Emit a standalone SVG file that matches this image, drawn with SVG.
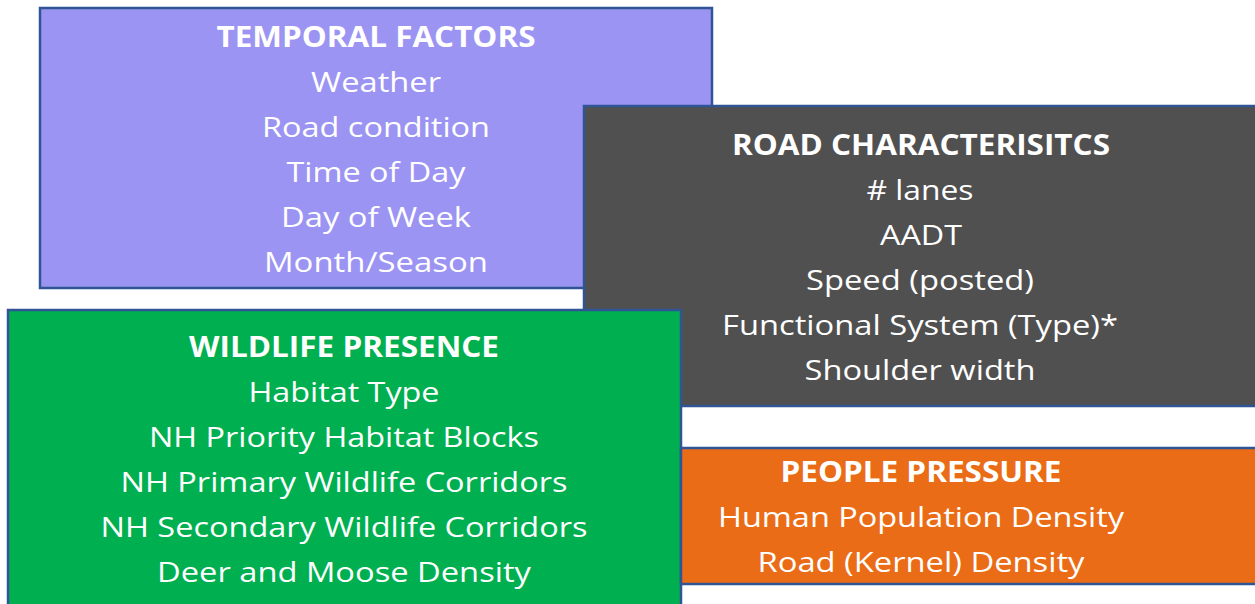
<svg xmlns="http://www.w3.org/2000/svg" width="1255" height="604" viewBox="0 0 1255 604">
<style>
.box{stroke:#2F5597;stroke-width:2.5}
text{font-family:"Open Sans","Liberation Sans",sans-serif;fill:#ffffff;text-anchor:middle;font-size:28px}
.h{font-weight:bold}
</style>
<rect width="1255" height="604" fill="#ffffff"/>
<g id="temporal">
<rect class="box" x="40" y="8" width="672" height="280" fill="#9C94F2"/>
<text class="h" x="376" y="47" textLength="319" lengthAdjust="spacingAndGlyphs">TEMPORAL FACTORS</text>
<text x="376" y="92" textLength="130" lengthAdjust="spacingAndGlyphs">Weather</text>
<text x="376" y="137" textLength="228" lengthAdjust="spacingAndGlyphs">Road condition</text>
<text x="376" y="182" textLength="179" lengthAdjust="spacingAndGlyphs">Time of Day</text>
<text x="376" y="227" textLength="190" lengthAdjust="spacingAndGlyphs">Day of Week</text>
<text x="376" y="272" textLength="224" lengthAdjust="spacingAndGlyphs">Month/Season</text>
</g>
<g id="road">
<rect class="box" x="584" y="106" width="690" height="300" fill="#505050"/>
<text class="h" x="921" y="155" textLength="378" lengthAdjust="spacingAndGlyphs">ROAD CHARACTERISITCS</text>
<text x="920" y="200" textLength="107" lengthAdjust="spacingAndGlyphs"># lanes</text>
<text x="921" y="245" textLength="82" lengthAdjust="spacingAndGlyphs">AADT</text>
<text x="920" y="290" textLength="228" lengthAdjust="spacingAndGlyphs">Speed (posted)</text>
<text x="920" y="335" textLength="396" lengthAdjust="spacingAndGlyphs">Functional System (Type)*</text>
<text x="920" y="380" textLength="231" lengthAdjust="spacingAndGlyphs">Shoulder width</text>
</g>
<g id="wildlife">
<rect class="box" x="8" y="310" width="673" height="310" fill="#00AF50"/>
<text class="h" x="344" y="357" textLength="310" lengthAdjust="spacingAndGlyphs">WILDLIFE PRESENCE</text>
<text x="344" y="402" textLength="191" lengthAdjust="spacingAndGlyphs">Habitat Type</text>
<text x="344" y="447" textLength="390" lengthAdjust="spacingAndGlyphs">NH Priority Habitat Blocks</text>
<text x="344" y="492" textLength="447" lengthAdjust="spacingAndGlyphs">NH Primary Wildlife Corridors</text>
<text x="344" y="537" textLength="487" lengthAdjust="spacingAndGlyphs">NH Secondary Wildlife Corridors</text>
<text x="344" y="582" textLength="374" lengthAdjust="spacingAndGlyphs">Deer and Moose Density</text>
</g>
<g id="people">
<rect class="box" x="681" y="448" width="590" height="136" fill="#EB6C17"/>
<text class="h" x="921" y="482" textLength="281" lengthAdjust="spacingAndGlyphs">PEOPLE PRESSURE</text>
<text x="921" y="527" textLength="406" lengthAdjust="spacingAndGlyphs">Human Population Density</text>
<text x="921" y="572" textLength="327" lengthAdjust="spacingAndGlyphs">Road (Kernel) Density</text>
</g>
<g id="connectors"/>
</svg>
